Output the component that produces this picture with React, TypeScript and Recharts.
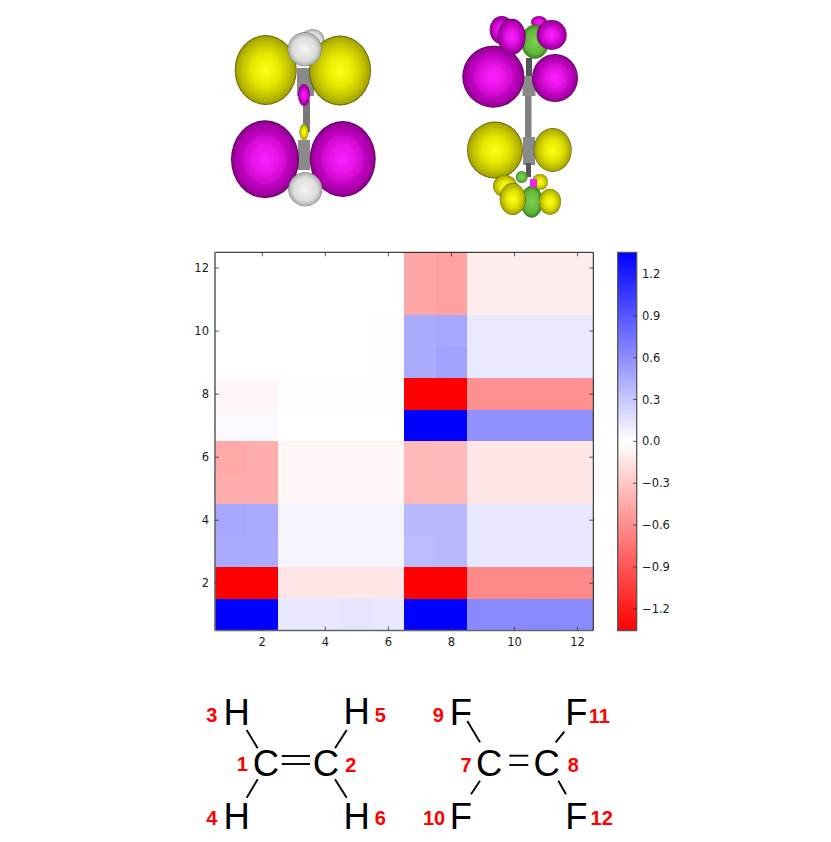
import React from "react";
import { ScatterChart, Scatter, XAxis, YAxis, BarChart, Bar } from "recharts";

const columns = [1, 2, 3, 4, 5, 6, 7, 8, 9, 10, 11, 12];
const row1 = [1.36, 1.36, 0.13, 0.13, 0.14, 0.13, 1.36, 1.36, 0.62, 0.62, 0.63, 0.62];
const row2 = [-1.36, -1.36, -0.14, -0.14, -0.14, -0.14, -1.36, -1.36, -0.63, -0.63, -0.63, -0.63];
const row3 = [0.45, 0.44, 0.06, 0.06, 0.06, 0.06, 0.36, 0.38, 0.13, 0.13, 0.13, 0.13];
const row4 = [0.47, 0.45, 0.06, 0.06, 0.06, 0.06, 0.38, 0.38, 0.13, 0.13, 0.13, 0.13];
const row5 = [-0.44, -0.44, -0.05, -0.04, -0.04, -0.05, -0.37, -0.37, -0.13, -0.13, -0.13, -0.13];
const row6 = [-0.46, -0.44, -0.05, -0.05, -0.05, -0.05, -0.37, -0.36, -0.13, -0.13, -0.13, -0.13];
const row7 = [0.03, 0.03, 0, 0, 0, 0, 1.36, 1.36, 0.59, 0.59, 0.59, 0.59];
const row8 = [-0.04, -0.04, -0.01, -0.01, -0.01, -0.01, -1.36, -1.36, -0.59, -0.59, -0.59, -0.59];
const row9 = [0, 0, 0, 0, 0, 0.01, 0.45, 0.49, 0.12, 0.12, 0.12, 0.12];
const row10 = [0, 0, 0, 0, 0, 0.01, 0.45, 0.47, 0.12, 0.12, 0.12, 0.12];
const row11 = [0, 0, 0, 0, 0, 0, -0.47, -0.5, -0.1, -0.1, -0.1, -0.1];
const row12 = [0, 0, 0, 0, 0, 0, -0.47, -0.5, -0.1, -0.1, -0.1, -0.1];
const rows = [row1, row2, row3, row4, row5, row6, row7, row8, row9, row10, row11, row12];

const axisTicks = [2, 4, 6, 8, 10, 12];
const colorTicks = [-1.2, -0.9, -0.6, -0.3, 0, 0.3, 0.6, 0.9, 1.2];
const VMAX = 1.356;

const cells = rows.flatMap((r, i) => r.map((v, j) => ({ x: columns[j], y: i + 1, v })));
const frameAnchor: { x: number; y: number }[] = [{ x: 1, y: 1 }];
const colorbarData = [{ name: "scale", range: [-VMAX, VMAX] }];

const hLabels = [
  { t: "H", x: 236.7, y: 724.5 }, { t: "H", x: 356.7, y: 724 },
  { t: "H", x: 236.7, y: 828.5 }, { t: "H", x: 356.7, y: 828.5 },
  { t: "C", x: 266, y: 775.5 }, { t: "C", x: 326, y: 775.5 },
  { t: "F", x: 461, y: 725 }, { t: "F", x: 576.5, y: 724.5 },
  { t: "F", x: 461, y: 828.5 }, { t: "F", x: 576.5, y: 828.5 },
  { t: "C", x: 489.3, y: 775.5 }, { t: "C", x: 546.7, y: 775.5 },
];
const redLabels = [
  { t: "3", x: 211.7, y: 722 }, { t: "5", x: 380.3, y: 722 },
  { t: "4", x: 211.7, y: 824.5 }, { t: "6", x: 380.3, y: 824.5 },
  { t: "1", x: 242.2, y: 771 }, { t: "2", x: 350.7, y: 771.5 },
  { t: "9", x: 438.3, y: 722 }, { t: "11", x: 599.3, y: 723 },
  { t: "7", x: 466, y: 772 }, { t: "8", x: 573.3, y: 772 },
  { t: "10", x: 434, y: 824.5 }, { t: "12", x: 601.7, y: 824.5 },
];
const bonds = [
  [246.7, 730, 257.7, 748.3], [257.7, 779.3, 246.7, 797.7],
  [346.7, 730, 335, 748.3], [335, 779.3, 346.7, 797.7],
  [281.7, 756, 310, 756], [281.7, 764, 310, 764],
  [467.3, 721, 480, 742.3], [480, 780.7, 471, 794.3],
  [564.3, 731.7, 555.7, 742.3], [558.3, 780.7, 566, 794.3],
  [509.3, 755.7, 528.3, 755.7], [509.3, 765, 528.3, 765],
];

const CELL = 378.3 / 12;
const CELL_H = 378.3 / 12;

function bwr(v: number) {
  const t = Math.max(-1, Math.min(1, v / VMAX));
  const c = Math.round(255 * (1 - Math.abs(t)));
  return t >= 0 ? `rgb(${c},${c},255)` : `rgb(255,${c},${c})`;
}

const HeatCell = (p: any) => (
  <rect
    x={p.cx - CELL / 2}
    y={p.cy - CELL_H / 2}
    width={CELL}
    height={CELL_H}
    fill={bwr(p.payload.v)}
    shapeRendering="crispEdges"
  />
);
const NoMark = () => null;

const tickStyle = { fontSize: 11.5, fontFamily: "DejaVu Sans", fill: "#1a1a1a" };
const tickLine = { stroke: "#333", strokeWidth: 0.8 };
const blank = () => "";
const fmt = (v: number) => v.toFixed(1).replace("-", "\u2212");

const Grad = ({ id, stops }: { id: string; stops: [number, string][] }) => (
  <radialGradient id={id} cx="50%" cy="50%" r="50%">
    {stops.map(([o, c]) => (
      <stop key={o} offset={o} stopColor={c} />
    ))}
  </radialGradient>
);

const E = ({ x, y, rx, ry, g }: { x: number; y: number; rx: number; ry?: number; g: string }) => (
  <ellipse cx={x} cy={y} rx={rx} ry={ry ?? rx} fill={`url(#${g})`} />
);

const Orbitals = () => (
  <svg width={831} height={235} style={{ position: "absolute", left: 0, top: 0 }}>
    <defs>
      <Grad id="yl" stops={[[0, "#ffff18"], [0.45, "#e8e800"], [0.75, "#c4c400"], [0.95, "#a4a400"], [1, "#4c4c00"]]} />
      <Grad id="mg" stops={[[0, "#ff20ff"], [0.45, "#e010e0"], [0.75, "#b800b8"], [0.95, "#960096"], [1, "#4a004a"]]} />
      <Grad id="wh" stops={[[0, "#f4f4f4"], [0.7, "#dcdcdc"], [0.95, "#b0b0b0"], [1, "#707070"]]} />
      <Grad id="gr" stops={[[0, "#7ed050"], [0.7, "#62b83c"], [1, "#3c7c24"]]} />
      <filter id="soft"><feGaussianBlur stdDeviation="0.6" /></filter>
    </defs>
    <g filter="url(#soft)">
      <rect x={303} y={100} width={7} height={32} fill="#777" />
      <rect x={297} y={68} width={17} height={28} fill="#8a8a8a" />
      <rect x={298} y={140} width={12} height={30} fill="#8a8a8a" />
      <E x={312.5} y={41} rx={12} g="wh" />
      <E x={265.7} y={70} rx={31} ry={35} g="yl" />
      <E x={340} y={70.5} rx={31} ry={35} g="yl" />
      <E x={304.7} y={49.3} rx={17} g="wh" />
      <E x={304} y={95} rx={6} ry={11} g="mg" />
      <E x={304} y={132} rx={4.5} ry={8} g="yl" />
      <E x={265} y={159.3} rx={34} ry={39} g="mg" />
      <E x={342.7} y={159} rx={33} ry={38} g="mg" />
      <E x={305.3} y={189.3} rx={17} g="wh" />

      <rect x={525} y={95} width={6.5} height={42} fill="#808080" />
      <rect x={526} y={58} width={6} height={20} fill="#555" />
      <rect x={522.5} y={76} width={13} height={20} fill="#8a8a8a" />
      <rect x={523} y={137} width={12} height={28} fill="#8a8a8a" />
      <rect x={526} y={163} width={5} height={14} fill="#555" />
      <E x={501.7} y={30} rx={12} ry={14} g="mg" />
      <E x={539} y={22} rx={8} ry={6} g="mg" />
      <E x={493.3} y={76.7} rx={31} ry={31} g="mg" />
      <E x={555} y={78} rx={23} ry={24} g="mg" />
      <E x={535} y={41.7} rx={14} ry={17} g="gr" />
      <E x={511.7} y={36.7} rx={14} ry={18} g="mg" />
      <E x={551.7} y={35} rx={15} ry={15} g="mg" />
      <E x={495} y={150} rx={28} ry={28.5} g="yl" />
      <E x={552.7} y={150} rx={19} ry={22} g="yl" />
      <E x={505} y={186} rx={12} ry={11} g="yl" />
      <E x={540} y={182} rx={8} ry={8} g="yl" />
      <E x={521.7} y={177} rx={6} ry={6} g="gr" />
      <E x={531.7} y={201.7} rx={11} ry={16} g="gr" />
      <E x={512.7} y={199} rx={13} ry={16} g="yl" />
      <E x={550} y={201.7} rx={11} ry={13} g="yl" />
      <rect x={530} y={179} width={7} height={8} fill="#f020f0" />
    </g>
  </svg>
);

const Molecules = () => (
  <svg width={831} height={162} viewBox="0 680 831 162" style={{ position: "absolute", left: 0, top: 680 }}>
    {bonds.map(([a, b, c, d], i) => (
      <line key={i} x1={a} y1={b} x2={c} y2={d} stroke="#000" strokeWidth={1.9} />
    ))}
    {hLabels.map((l, i) => (
      <text key={i} x={l.x} y={l.y} textAnchor="middle" fontFamily="Liberation Sans" fontSize={36.5} fill="#000">{l.t}</text>
    ))}
    {redLabels.map((l, i) => (
      <text key={i} x={l.x} y={l.y} textAnchor="middle" fontFamily="Liberation Sans" fontWeight="bold" fontSize={20} fill="#ff0000">{l.t}</text>
    ))}
  </svg>
);

const abs0: React.CSSProperties = { position: "absolute", left: 0, top: 0 };
const absBar: React.CSSProperties = { position: "absolute", left: 600, top: 240 };

export default function App() {
  return (
    <div style={{ position: "absolute", left: 0, top: 0, width: 831, height: 842, background: "#fff", overflow: "hidden" }}>
      <Orbitals />
      <div style={abs0}>
        <ScatterChart width={831} height={700} margin={{ top: 252.3, left: 215, right: 237.7, bottom: 69.5 }}>
          <XAxis type="number" dataKey="x" domain={[0.5, 12.5]} allowDataOverflow hide />
          <YAxis type="number" dataKey="y" domain={[0.5, 12.5]} allowDataOverflow hide />
          <Scatter data={cells} dataKey="v" shape={HeatCell} isAnimationActive={false} />
        </ScatterChart>
      </div>
      <div style={abs0}>
        <ScatterChart width={831} height={700} margin={{ top: 251.3, left: 185, right: 236.7, bottom: 39.5 }}>
          <Scatter data={frameAnchor} dataKey="y" shape={NoMark} isAnimationActive={false} />
          <Scatter data={frameAnchor} dataKey="y" xAxisId="top" yAxisId="right" shape={NoMark} isAnimationActive={false} />
          <XAxis type="number" dataKey="x" xAxisId={0} domain={[0.5, 12.5]} ticks={axisTicks} allowDataOverflow height={30} orientation="bottom" tick={tickStyle} tickSize={-4} tickMargin={11} tickLine={tickLine} axisLine={{ stroke: "#666", strokeWidth: 1.6 }} />
          <XAxis type="number" dataKey="x" xAxisId="top" domain={[0.5, 12.5]} ticks={axisTicks} allowDataOverflow height={1} orientation="top" tick={tickStyle} tickFormatter={blank} tickSize={-4} tickLine={tickLine} axisLine={{ stroke: "#111", strokeWidth: 1 }} />
          <YAxis type="number" dataKey="y" yAxisId={0} domain={[0.5, 12.5]} ticks={axisTicks} allowDataOverflow width={30} orientation="left" tick={tickStyle} tickSize={-4} tickMargin={10} tickLine={tickLine} axisLine={{ stroke: "#666", strokeWidth: 1.6 }} />
          <YAxis type="number" dataKey="y" yAxisId="right" domain={[0.5, 12.5]} ticks={axisTicks} allowDataOverflow width={1} orientation="right" tick={tickStyle} tickFormatter={blank} tickSize={-4} tickLine={tickLine} axisLine={{ stroke: "#111", strokeWidth: 1 }} />
        </ScatterChart>
      </div>
      <div style={absBar}>
        <BarChart width={100} height={400} data={colorbarData} barCategoryGap={0} margin={{ top: 12.3, left: 17.7, right: 63, bottom: 9.5 }}>
          <defs>
            <linearGradient id="bwr" x1="0" y1="0" x2="0" y2="1">
              <stop offset="0" stopColor="#0000ff" />
              <stop offset="0.5" stopColor="#ffffff" />
              <stop offset="1" stopColor="#ff0000" />
            </linearGradient>
          </defs>
          <XAxis dataKey="name" hide />
          <YAxis type="number" domain={[-VMAX, VMAX]} hide />
          <Bar dataKey="range" fill="url(#bwr)" stroke="#555" strokeWidth={1.3} isAnimationActive={false} />
        </BarChart>
      </div>
      <div style={absBar}>
        <BarChart width={100} height={400} data={colorbarData} barCategoryGap={0} margin={{ top: 12.3, left: 17.7, right: 33, bottom: 9.5 }}>
          <XAxis dataKey="name" hide />
          <YAxis type="number" orientation="right" width={30} domain={[-VMAX, VMAX]} ticks={colorTicks} interval={0} tick={tickStyle} tickFormatter={fmt} tickSize={-4} tickMargin={9} tickLine={tickLine} axisLine={false} />
          <Bar dataKey="range" fill="none" stroke="none" isAnimationActive={false} />
        </BarChart>
      </div>
      <Molecules />
    </div>
  );
}
